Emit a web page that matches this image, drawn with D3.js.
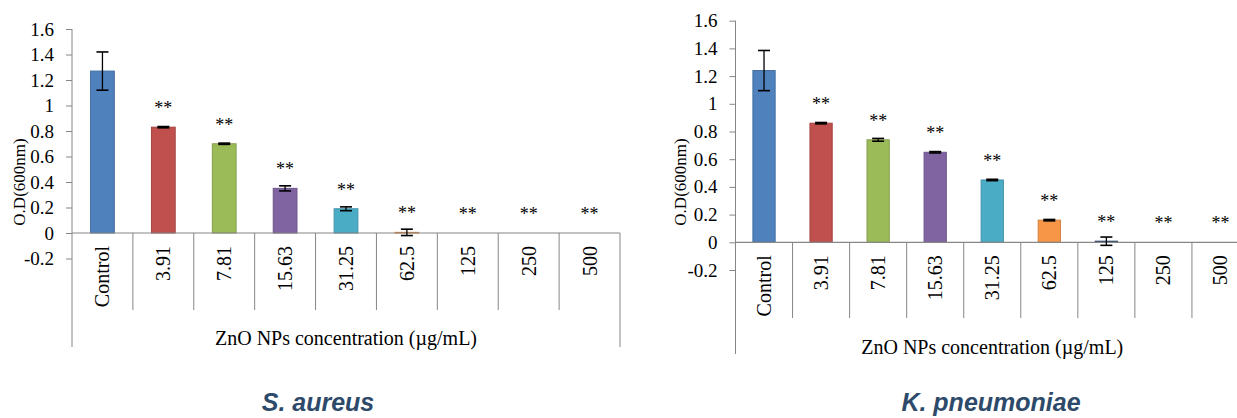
<!DOCTYPE html>
<html>
<head>
<meta charset="utf-8">
<script src="https://cdn.jsdelivr.net/npm/d3@7"></script>
<style>
  html, body { margin: 0; padding: 0; background: #ffffff; }
  svg { display: block; }
</style>
</head>
<body>
<svg id="chart" width="1237" height="418"></svg>
<script>
// ---------- data ----------
const categories = ["Control", "3.91", "7.81", "15.63", "31.25", "62.5", "125", "250", "500"];
const yTickValues = [-0.2, 0, 0.2, 0.4, 0.6, 0.8, 1, 1.2, 1.4, 1.6];
const yTickLabels = ["-0.2", "0", "0.2", "0.4", "0.6", "0.8", "1", "1.2", "1.4", "1.6"];
const barColors = ["#4F81BD", "#C0504D", "#9BBB59", "#8064A2", "#4BACC6", "#F79646", "#2C4D75", "#772C2A", "#5F7530"];

const saureusMeans  = [1.27, 0.83, 0.70, 0.35, 0.19, 0.005, 0, 0, 0];
const saureusErrors = [0.15, 0.005, 0.005, 0.02, 0.015, 0.025, 0, 0, 0];
const saureusSig    = ["", "**", "**", "**", "**", "**", "**", "**", "**"];

const kpMeans  = [1.24, 0.86, 0.74, 0.65, 0.45, 0.16, 0.008, 0, 0];
const kpErrors = [0.145, 0.005, 0.01, 0.005, 0.005, 0.005, 0.03, 0, 0];
const kpSig    = ["", "**", "**", "**", "**", "**", "**", "**", "**"];

const yAxisTitle = "O.D(600nm)";
const xAxisTitle = "ZnO NPs concentration (\u00B5g/mL)";
const panelTitles = ["S. aureus", "K. pneumoniae"];

// ---------- layout ----------
const panels = [
  { means: saureusMeans, errors: saureusErrors, sig: saureusSig, title: panelTitles[0],
    x0: 72, x1: 620, yTop: 29, yBottom: 258.5, sepBottom: 310, axisBottom: 347,
    yTitleX: 19, titleX: 318, xTitleY: 338 },
  { means: kpMeans, errors: kpErrors, sig: kpSig, title: panelTitles[1],
    x0: 735.5, x1: 1249, yTop: 20.7, yBottom: 270, sepBottom: 318, axisBottom: 354,
    yTitleX: 680, titleX: 991, xTitleY: 347 }
];

const svg = d3.select("#chart");
const serif = "'Liberation Serif', 'Times New Roman', serif";
const axisColor = "#868686";

function darker(c) { return d3.color(c).darker(0.45).formatHex(); }

panels.forEach(p => {
  const g = svg.append("g");
  const y = d3.scaleLinear().domain([-0.2, 1.6]).range([p.yBottom, p.yTop]);
  const x = d3.scaleBand().domain(categories).range([p.x0, p.x1]).padding(0);
  const barW = x.bandwidth() * 0.39;
  const y0 = y(0);

  // y axis
  const yAxis = d3.axisLeft(y).tickValues(yTickValues).tickSize(6).tickPadding(12)
    .tickFormat((d, i) => yTickLabels[i]);
  const ya = g.append("g").attr("transform", `translate(${p.x0},0)`).call(yAxis);
  ya.attr("font-family", null).attr("font-size", null);
  ya.select(".domain").remove();
  ya.selectAll(".tick line").attr("stroke", axisColor);
  ya.selectAll(".tick text").attr("fill", "#000").style("font-family", serif).style("font-size", "19px");
  g.append("line").attr("x1", p.x0).attr("x2", p.x0).attr("y1", p.yTop).attr("y2", p.axisBottom)
    .attr("stroke", axisColor).attr("stroke-width", 1);

  // bars
  g.selectAll("rect.bar").data(categories).enter().append("rect")
    .attr("class", "bar")
    .attr("x", d => x(d) + (x.bandwidth() - barW) / 2)
    .attr("width", barW)
    .attr("y", (d, i) => y(Math.max(0, p.means[i])))
    .attr("height", (d, i) => Math.abs(y(p.means[i]) - y0))
    .attr("fill", (d, i) => barColors[i])
    .attr("stroke", (d, i) => darker(barColors[i]))
    .attr("stroke-width", 1)
    .attr("display", (d, i) => p.means[i] === 0 ? "none" : null);

  // category axis line
  g.append("line").attr("x1", p.x0).attr("x2", p.x1).attr("y1", y0).attr("y2", y0)
    .attr("stroke", axisColor).attr("stroke-width", 1.2);
  // separators
  const seps = categories.slice(1).map(c => x(c));
  g.selectAll("line.sep").data(seps).enter().append("line")
    .attr("x1", d => d).attr("x2", d => d).attr("y1", y0).attr("y2", p.sepBottom)
    .attr("stroke", axisColor).attr("stroke-width", 1);
  g.append("line").attr("x1", p.x1).attr("x2", p.x1).attr("y1", y0).attr("y2", p.axisBottom)
    .attr("stroke", axisColor).attr("stroke-width", 1);

  // error bars
  const cap = 6;
  categories.forEach((c, i) => {
    const e = p.errors[i];
    if (!e) return;
    const cx = x(c) + x.bandwidth() / 2;
    const hi = y(p.means[i] + e), lo = y(p.means[i] - e);
    g.append("line").attr("x1", cx).attr("x2", cx).attr("y1", hi).attr("y2", lo).attr("stroke", "#000").attr("stroke-width", 1.3);
    g.append("line").attr("x1", cx - cap).attr("x2", cx + cap).attr("y1", hi).attr("y2", hi).attr("stroke", "#000").attr("stroke-width", 1.6);
    g.append("line").attr("x1", cx - cap).attr("x2", cx + cap).attr("y1", lo).attr("y2", lo).attr("stroke", "#000").attr("stroke-width", 1.6);
  });

  // significance
  g.selectAll("text.sig").data(categories).enter().append("text")
    .attr("class", "sig")
    .attr("x", d => x(d) + x.bandwidth() / 2)
    .attr("y", (d, i) => y(Math.max(0, p.means[i])) - 13)
    .attr("text-anchor", "middle")
    .style("font-family", serif).style("font-size", "18px")
    .text((d, i) => p.sig[i]);

  // category labels (rotated)
  g.selectAll("text.cat").data(categories).enter().append("text")
    .attr("class", "cat")
    .attr("transform", d => `translate(${x(d) + x.bandwidth() / 2},${y0 + 13}) rotate(-90)`)
    .attr("text-anchor", "end")
    .attr("dy", "0.35em")
    .style("font-family", serif).style("font-size", "20px")
    .text(d => d);

  // axis titles
  g.append("text")
    .attr("transform", `translate(${p.yTitleX},182) rotate(-90)`)
    .attr("text-anchor", "middle").attr("dy", "0.35em")
    .style("font-family", serif).style("font-size", "17px")
    .text(yAxisTitle);
  g.append("text")
    .attr("x", (p.x0 + p.x1) / 2).attr("y", p.xTitleY)
    .attr("text-anchor", "middle").attr("dy", "0.35em")
    .style("font-family", serif).style("font-size", "20px")
    .text(xAxisTitle);

  // panel title
  g.append("text")
    .attr("x", p.titleX).attr("y", 411)
    .attr("text-anchor", "middle")
    .style("font-family", "'Liberation Sans', Arial, sans-serif")
    .style("font-size", "25px").style("font-weight", "bold").style("font-style", "italic")
    .attr("fill", "#2E4A6A")
    .text(p.title);
});
</script>
</body>
</html>
